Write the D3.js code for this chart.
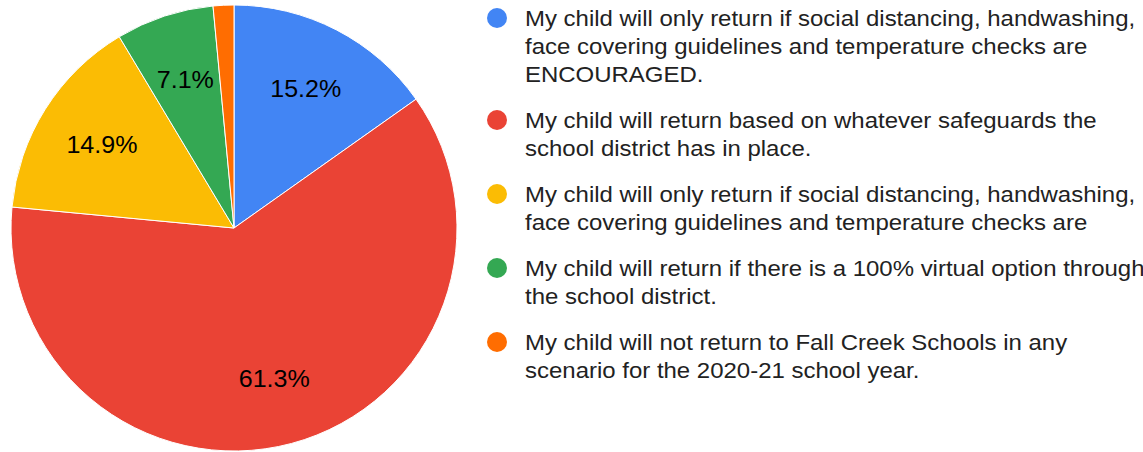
<!DOCTYPE html>
<html>
<head>
<meta charset="utf-8">
<script src="https://cdn.jsdelivr.net/npm/d3@7"></script>
<style>
  body { margin: 0; background: #fff; }
  svg { display: block; font-family: Arial, "Liberation Sans", sans-serif; }
</style>
</head>
<body>
<div id="chart"></div>
<script>
// data
const categories = [
  ["My child will only return if social distancing, handwashing,", "face covering guidelines and temperature checks are", "ENCOURAGED."],
  ["My child will return based on whatever safeguards the", "school district has in place."],
  ["My child will only return if social distancing, handwashing,", "face covering guidelines and temperature checks are"],
  ["My child will return if there is a 100% virtual option through", "the school district."],
  ["My child will not return to Fall Creek Schools in any", "scenario for the 2020-21 school year."]
];
const values = [15.2, 61.3, 14.9, 7.1, 1.5];
const colors = ['#4285f4', '#ea4335', '#fbbc04', '#34a853', '#ff6d01'];

const width = 1143, height = 452;
const cx = 234, cy = 228, radius = 223;
const stretch = 1.09; // text in the reference is a bit wider than plain Arial

const svg = d3.select('#chart').append('svg')
  .attr('width', width)
  .attr('height', height);

const pie = d3.pie().sort(null).value(d => d);
const arcs = pie(values);

const arc = d3.arc().innerRadius(0).outerRadius(radius);
const labelArc = d3.arc().innerRadius(radius * 0.7).outerRadius(radius * 0.7);

const g = svg.append('g').attr('transform', `translate(${cx},${cy})`);

g.selectAll('path')
  .data(arcs)
  .enter().append('path')
  .attr('d', arc)
  .attr('fill', (d, i) => colors[i])
  .attr('stroke', '#fff')
  .attr('stroke-width', 1);

// slice labels (skip tiny slices)
g.selectAll('text')
  .data(arcs.filter(d => d.data >= 5))
  .enter().append('text')
  .attr('transform', d => `translate(${labelArc.centroid(d)}) scale(${stretch},1)`)
  .attr('text-anchor', 'middle')
  .attr('dy', '0.35em')
  .attr('font-size', 23)
  .attr('fill', '#000')
  .text(d => d.data.toFixed(1) + '%');

// legend
const lineH = 28, itemGap = 18;
let y = 18;
const legend = svg.append('g');
categories.forEach((lines, i) => {
  const item = legend.append('g').attr('transform', `translate(0,${y})`);
  item.append('circle')
    .attr('cx', 497).attr('cy', 0).attr('r', 10)
    .attr('fill', colors[i]);
  const tg = item.append('g').attr('transform', `translate(525,0) scale(${stretch},1)`);
  lines.forEach((t, j) => {
    tg.append('text')
      .attr('x', 0)
      .attr('y', j * lineH)
      .attr('dy', '0.36em')
      .attr('font-size', 22)
      .attr('fill', '#222')
      .text(t);
  });
  y += lines.length * lineH + itemGap;
});
</script>
</body>
</html>
